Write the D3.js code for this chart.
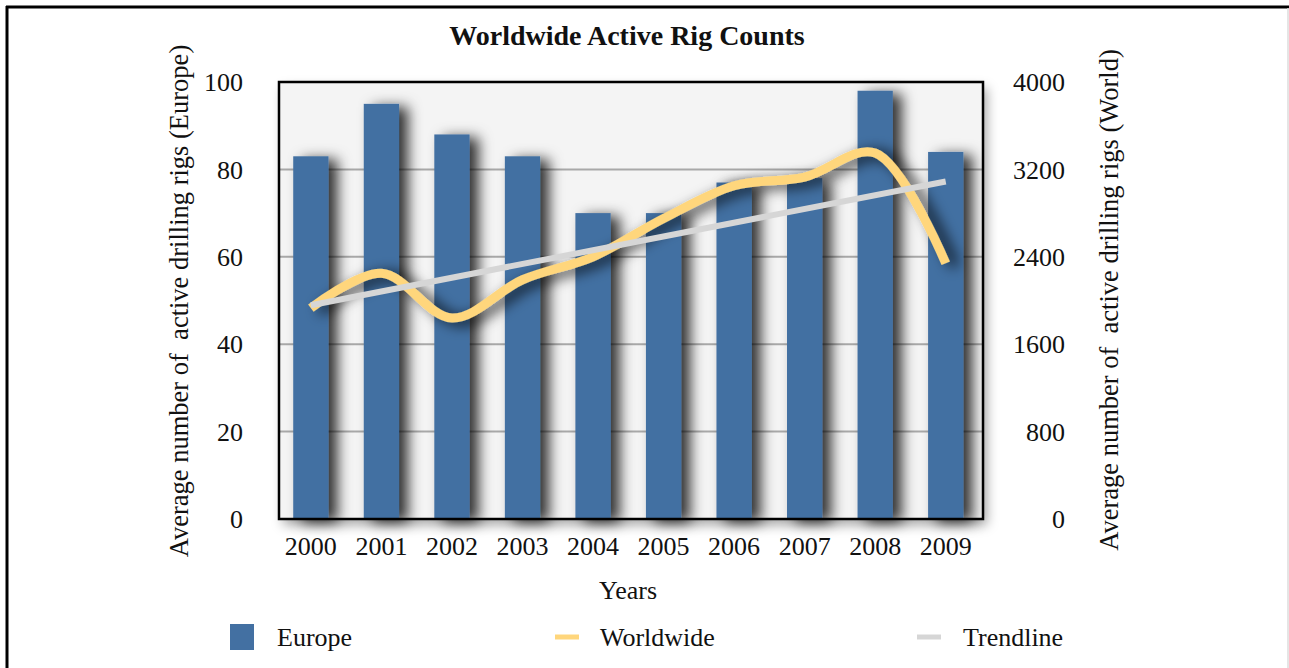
<!DOCTYPE html>
<html>
<head>
<meta charset="utf-8">
<script src="https://cdn.jsdelivr.net/npm/d3@7"></script>
<style>
  body { margin: 0; background: #fff; }
  text { font-family: "Liberation Serif", "DejaVu Serif", serif; fill: #111; }
</style>
</head>
<body>
<div id="chart"></div>
<script>
var w = 1289, h = 668;
var years = ["2000", "2001", "2002", "2003", "2004", "2005", "2006", "2007", "2008", "2009"];
var europe = [83, 95, 88, 83, 70, 70, 77, 78, 98, 84];
var worldwide = [1930, 2250, 1840, 2190, 2400, 2750, 3050, 3130, 3350, 2340];
var leftTicks = [0, 20, 40, 60, 80, 100];
var rightTicks = [0, 800, 1600, 2400, 3200, 4000];

var m = { left: 279, right: 983, top: 82, bottom: 519 };

var svg = d3.select("#chart").append("svg")
  .attr("width", w).attr("height", h);

var defs = svg.append("defs");
var sh = defs.append("filter").attr("id", "shadow")
  .attr("x", "-50%").attr("y", "-20%").attr("width", "250%").attr("height", "140%");
sh.append("feDropShadow").attr("dx", 9).attr("dy", 3).attr("stdDeviation", 7)
  .attr("flood-color", "#000").attr("flood-opacity", 0.8);
var sh2 = defs.append("filter").attr("id", "shadow2")
  .attr("x", "-10%").attr("y", "-10%").attr("width", "120%").attr("height", "130%");
sh2.append("feDropShadow").attr("dx", 4).attr("dy", 6).attr("stdDeviation", 6)
  .attr("flood-color", "#000").attr("flood-opacity", 0.35);

// outer border
svg.append("line").attr("x1", 7).attr("x2", 7).attr("y1", 6).attr("y2", h)
  .attr("stroke", "#000").attr("stroke-width", 3);
svg.append("line").attr("x1", 6).attr("x2", w).attr("y1", 7).attr("y2", 7)
  .attr("stroke", "#000").attr("stroke-width", 3);
svg.append("line").attr("x1", 1288).attr("x2", 1288).attr("y1", 8).attr("y2", h)
  .attr("stroke", "#ddd").attr("stroke-width", 1.5);

var x = d3.scaleBand().domain(years).range([m.left, m.right])
  .paddingInner(0.5).paddingOuter(0.24).align(0.42);
var yL = d3.scaleLinear().domain([0, 100]).range([m.bottom, m.top]);
var yR = d3.scaleLinear().domain([0, 4000]).range([m.bottom, m.top]);

// plot background
svg.append("rect").attr("x", m.left).attr("y", m.top)
  .attr("width", m.right - m.left).attr("height", m.bottom - m.top)
  .attr("fill", "#f4f4f4").attr("filter", "url(#shadow2)");

// grid
svg.append("g").selectAll("line").data(leftTicks.slice(1, -1)).enter().append("line")
  .attr("x1", m.left).attr("x2", m.right)
  .attr("y1", function(d) { return yL(d); }).attr("y2", function(d) { return yL(d); })
  .attr("stroke", "#a8a8a8").attr("stroke-width", 2);

// bars
svg.append("g").selectAll("rect").data(europe).enter().append("rect")
  .attr("x", function(d, i) { return x(years[i]); })
  .attr("y", function(d) { return yL(d); })
  .attr("width", x.bandwidth())
  .attr("height", function(d) { return m.bottom - yL(d); })
  .attr("fill", "#4370a2")
  .attr("filter", "url(#shadow)");

// frame
svg.append("rect").attr("x", m.left).attr("y", m.top)
  .attr("width", m.right - m.left).attr("height", m.bottom - m.top)
  .attr("fill", "none").attr("stroke", "#000").attr("stroke-width", 2.5);

var cx = function(i) { return x(years[i]) + x.bandwidth() / 2; };

// trendline (least squares fit of worldwide)
var n = worldwide.length;
var mx = d3.mean(worldwide, function(d, i) { return i; });
var my = d3.mean(worldwide);
var sxy = d3.sum(worldwide, function(d, i) { return (i - mx) * (d - my); });
var sxx = d3.sum(worldwide, function(d, i) { return (i - mx) * (i - mx); });
var slope = sxy / sxx, icpt = my - slope * mx;

var wl = d3.line().x(function(d, i) { return cx(i); }).y(function(d) { return yR(d); })
  .curve(d3.curveCatmullRom.alpha(0.5));
svg.append("path").datum(worldwide).attr("d", wl)
  .attr("fill", "none").attr("stroke", "#ffd67c").attr("stroke-width", 9)
  .attr("filter", "url(#shadow)");

svg.append("line")
  .attr("x1", cx(0)).attr("y1", yR(icpt))
  .attr("x2", cx(n - 1)).attr("y2", yR(icpt + slope * (n - 1)))
  .attr("stroke", "#d6d6d6").attr("stroke-width", 6);

// axes labels
svg.append("g").selectAll("text").data(leftTicks).enter().append("text")
  .attr("x", 243).attr("y", function(d) { return yL(d); }).attr("dy", "0.35em")
  .attr("text-anchor", "end").attr("font-size", 26).text(function(d) { return d; });
svg.append("g").selectAll("text").data(rightTicks).enter().append("text")
  .attr("x", 1065).attr("y", function(d) { return yR(d); }).attr("dy", "0.35em")
  .attr("text-anchor", "end").attr("font-size", 26).text(function(d) { return d; });
svg.append("g").selectAll("text").data(years).enter().append("text")
  .attr("x", function(d) { return x(d) + x.bandwidth() / 2; }).attr("y", 555)
  .attr("text-anchor", "middle").attr("font-size", 26).text(function(d) { return d; });

svg.append("text").attr("x", 627).attr("y", 45).attr("text-anchor", "middle")
  .attr("font-size", 28).attr("font-weight", "bold").text("Worldwide Active Rig Counts");
svg.append("text").attr("x", 628).attr("y", 599).attr("text-anchor", "middle")
  .attr("font-size", 26).text("Years");
svg.append("text").attr("transform", "translate(188,301) rotate(-90)")
  .attr("text-anchor", "middle").attr("font-size", 26.5).attr("xml:space", "preserve")
  .text("Average number of  active drilling rigs (Europe)");
svg.append("text").attr("transform", "translate(1118,300) rotate(-90)")
  .attr("text-anchor", "middle").attr("font-size", 26.5).attr("xml:space", "preserve")
  .text("Average number of  active drilling rigs (World)");

// legend
var lg = svg.append("g");
lg.append("rect").attr("x", 230).attr("y", 624).attr("width", 24).attr("height", 26).attr("fill", "#4370a2");
lg.append("text").attr("x", 277).attr("y", 646).attr("font-size", 26).text("Europe");
lg.append("line").attr("x1", 555).attr("x2", 579).attr("y1", 637).attr("y2", 637)
  .attr("stroke", "#ffd67c").attr("stroke-width", 5);
lg.append("text").attr("x", 600).attr("y", 646).attr("font-size", 26).text("Worldwide");
lg.append("line").attr("x1", 917).attr("x2", 941).attr("y1", 637).attr("y2", 637)
  .attr("stroke", "#d6d6d6").attr("stroke-width", 5);
lg.append("text").attr("x", 963).attr("y", 646).attr("font-size", 26).text("Trendline");
</script>
</body>
</html>
